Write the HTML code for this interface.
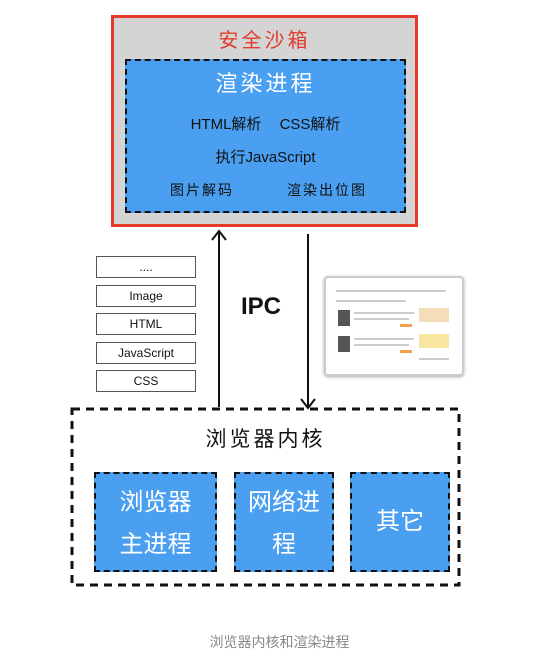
<!DOCTYPE html>
<html><head><meta charset="utf-8"><style>
body{margin:0;width:559px;height:658px;background:#fff;position:relative;overflow:hidden;font-family:"Liberation Sans","Noto Sans CJK SC",sans-serif}
.a{position:absolute}
.t{position:absolute;text-align:center}
.stk{position:absolute;left:96px;width:100px;height:22px;border:1.5px solid #555;box-sizing:border-box;font-size:12px;text-align:center;line-height:20px;color:#111}
.blu{position:absolute;background:#4a9ff0;border:2px dashed #111;box-sizing:border-box;color:#fff;font-size:24px;text-align:center}
.g{position:absolute;height:2px;background:#ccc}
</style></head><body>
<div class="a" style="left:111px;top:15px;width:307px;height:212px;background:#d4d4d4;border:3px solid #e33a2a;box-sizing:border-box"></div>
<div class="t" style="left:111px;top:24px;width:307px;font-size:20px;color:#e33a2a;letter-spacing:3px">安全沙箱</div>
<div class="a" style="left:125px;top:59px;width:281px;height:154px;background:#4a9ff0;border:2px dashed #111;box-sizing:border-box"></div>
<div class="t" style="left:125px;top:66px;width:281px;font-size:22px;color:#fff;letter-spacing:3px">渲染进程</div>
<div class="t" style="left:125px;top:113px;width:281px;font-size:15px;color:#111;word-spacing:14px">HTML解析 CSS解析</div>
<div class="t" style="left:125px;top:146px;width:281px;font-size:15px;color:#111">执行JavaScript</div>
<div class="a" style="left:170px;top:180px;font-size:14px;color:#111;letter-spacing:2px">图片解码</div>
<div class="a" style="left:287px;top:180px;font-size:14px;color:#111;letter-spacing:2px">渲染出位图</div>
<svg class="a" style="left:0;top:0" width="559" height="658">
<line x1="219" y1="232" x2="219" y2="407" stroke="#111" stroke-width="2"/>
<polyline points="212,240 219,231 226,240" fill="none" stroke="#111" stroke-width="2"/>
<line x1="308" y1="234" x2="308" y2="408" stroke="#111" stroke-width="2"/>
<polyline points="301,399 308,408 315,399" fill="none" stroke="#111" stroke-width="2"/>
<rect x="72" y="409" width="387" height="176" fill="none" stroke="#111" stroke-width="3" stroke-dasharray="8,6"/>
</svg>
<div class="stk" style="top:256px">....</div>
<div class="stk" style="top:285px">Image</div>
<div class="stk" style="top:313px">HTML</div>
<div class="stk" style="top:342px">JavaScript</div>
<div class="stk" style="top:370px">CSS</div>
<div class="a" style="left:241px;top:293px;font-size:24px;font-weight:bold;color:#111">IPC</div>
<div class="a" style="left:324px;top:276px;width:136px;height:96px;background:#fff;border:2px solid #ccc;border-radius:4px;box-shadow:0 1px 3px #aaa">
<div class="g" style="left:10px;top:12px;width:110px"></div>
<div class="g" style="left:10px;top:22px;width:70px"></div>
<div class="a" style="left:12px;top:32px;width:12px;height:16px;background:#555"></div>
<div class="g" style="left:28px;top:34px;width:60px"></div>
<div class="g" style="left:28px;top:40px;width:55px"></div>
<div class="a" style="left:74px;top:46px;width:12px;height:3px;background:#f0a050"></div>
<div class="a" style="left:12px;top:58px;width:12px;height:16px;background:#555"></div>
<div class="g" style="left:28px;top:60px;width:60px"></div>
<div class="g" style="left:28px;top:66px;width:55px"></div>
<div class="a" style="left:74px;top:72px;width:12px;height:3px;background:#f0a050"></div>
<div class="a" style="left:93px;top:30px;width:30px;height:14px;background:#f4ddb8"></div>
<div class="a" style="left:93px;top:56px;width:30px;height:14px;background:#f8e6a0"></div>
<div class="g" style="left:93px;top:80px;width:30px"></div>
</div>
<div class="t" style="left:72px;top:423px;width:387px;font-size:21px;color:#111;letter-spacing:3px">浏览器内核</div>
<div class="blu" style="left:94px;top:472px;width:123px;height:100px;line-height:42px;padding-top:8px">浏览器<br>主进程</div>
<div class="blu" style="left:234px;top:472px;width:100px;height:100px;line-height:42px;padding-top:8px">网络进<br>程</div>
<div class="blu" style="left:350px;top:472px;width:100px;height:100px;line-height:96px">其它</div>
<div class="t" style="left:0;top:632px;width:559px;font-size:14px;color:#888">浏览器内核和渲染进程</div>
</body></html>
